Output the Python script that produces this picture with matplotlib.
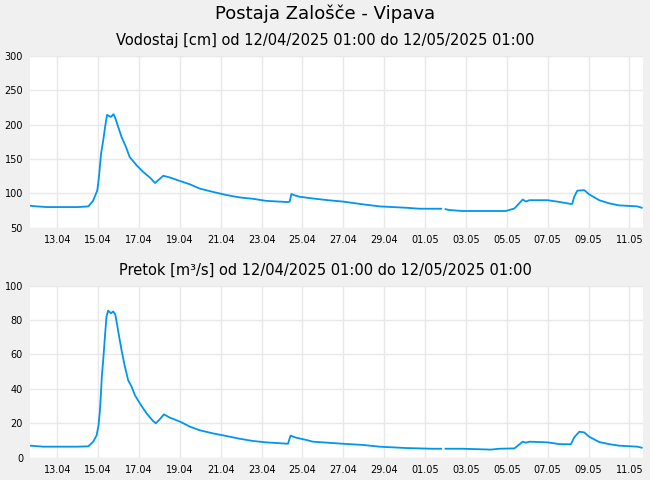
import numpy as np
import pandas as pd
import matplotlib
matplotlib.use('Agg')
import matplotlib.pyplot as plt
import matplotlib.dates as mdates

# Vodostaj [cm]
level_time = [
    '2025-04-11 16:00', '2025-04-12 00:00', '2025-04-12 12:00', '2025-04-13 00:00',
    '2025-04-14 00:00', '2025-04-14 12:30', '2025-04-14 18:00', '2025-04-14 23:00',
    '2025-04-15 01:00', '2025-04-15 03:30', '2025-04-15 06:00', '2025-04-15 08:30',
    '2025-04-15 10:30', '2025-04-15 15:00', '2025-04-15 18:00', '2025-04-15 20:00',
    '2025-04-15 23:30', '2025-04-16 03:30', '2025-04-16 08:30', '2025-04-16 13:00',
    '2025-04-16 21:00', '2025-04-17 05:00', '2025-04-17 12:45', '2025-04-17 19:00',
    '2025-04-17 22:30', '2025-04-18 04:30', '2025-04-18 12:15', '2025-04-19 00:00',
    '2025-04-19 12:00', '2025-04-19 23:00', '2025-04-20 15:00', '2025-04-21 06:45',
    '2025-04-21 22:20', '2025-04-22 14:00', '2025-04-23 05:30', '2025-04-24 07:00',
    '2025-04-24 09:00', '2025-04-24 11:00', '2025-04-24 15:00', '2025-04-24 20:40',
    '2025-04-25 12:15', '2025-04-26 06:00', '2025-04-26 23:30', '2025-04-27 23:00',
    '2025-04-28 18:30', '2025-04-30 02:00', '2025-04-30 17:30', '2025-05-01 19:00',
    '2025-05-01 20:00', '2025-05-02 00:00', '2025-05-02 04:30', '2025-05-02 20:00',
    '2025-05-04 23:00', '2025-05-05 09:00', '2025-05-05 18:45', '2025-05-05 22:30',
    '2025-05-06 02:30', '2025-05-07 00:00', '2025-05-07 13:40', '2025-05-08 03:20',
    '2025-05-08 05:00', '2025-05-08 07:10', '2025-05-08 10:50', '2025-05-08 19:00',
    '2025-05-09 00:45', '2025-05-09 12:30', '2025-05-10 00:00', '2025-05-10 11:45',
    '2025-05-11 09:20', '2025-05-11 14:30',
]
level_val = [
    82, 81, 80, 80,
    80, 81, 89, 104,
    124, 158, 177, 199,
    214, 211, 215, 210,
    197, 182, 168, 153,
    141, 131, 123, 115,
    119, 125.5, 123, 118,
    113, 107, 102, 97.5,
    94, 92, 89, 87.3,
    88, 99, 97, 95,
    92.5, 90, 88, 84,
    81, 79, 77.6, 77.6,
    np.nan, 77, 75.7, 74.3,
    74.3, 78, 91, 88,
    90, 90, 87.5, 84.5,
    85, 95, 103.8, 104.6,
    98.5, 90, 85.5, 82.5,
    81, 79,
]

# Pretok [m3/s]
flow_time = [
    '2025-04-11 16:00', '2025-04-12 07:40', '2025-04-14 00:00', '2025-04-14 12:30',
    '2025-04-14 18:15', '2025-04-14 22:15', '2025-04-15 00:30', '2025-04-15 02:10',
    '2025-04-15 03:20', '2025-04-15 04:20', '2025-04-15 06:00', '2025-04-15 08:00',
    '2025-04-15 09:50', '2025-04-15 11:45', '2025-04-15 15:00', '2025-04-15 17:45',
    '2025-04-15 20:10', '2025-04-15 22:25', '2025-04-16 00:45', '2025-04-16 03:30',
    '2025-04-16 07:25', '2025-04-16 11:20', '2025-04-16 15:20', '2025-04-16 19:10',
    '2025-04-17 01:00', '2025-04-17 08:50', '2025-04-17 16:35', '2025-04-17 19:45',
    '2025-04-17 23:40', '2025-04-18 05:15', '2025-04-18 12:15', '2025-04-19 00:00',
    '2025-04-19 12:00', '2025-04-19 23:00', '2025-04-20 15:00', '2025-04-21 06:45',
    '2025-04-21 22:20', '2025-04-22 14:00', '2025-04-23 05:30', '2025-04-24 07:00',
    '2025-04-24 10:00', '2025-04-24 16:50', '2025-04-25 04:30', '2025-04-25 12:15',
    '2025-04-26 06:00', '2025-04-26 23:30', '2025-04-27 23:00', '2025-04-28 18:30',
    '2025-04-30 02:00', '2025-05-01 09:00', '2025-05-01 19:00', '2025-05-01 20:00',
    '2025-05-02 00:00', '2025-05-02 20:00', '2025-05-04 05:30', '2025-05-04 15:20',
    '2025-05-05 09:00', '2025-05-05 18:45', '2025-05-05 22:30', '2025-05-06 02:30',
    '2025-05-07 00:00', '2025-05-07 13:40', '2025-05-08 03:20', '2025-05-08 07:10',
    '2025-05-08 13:10', '2025-05-08 19:00', '2025-05-09 00:45', '2025-05-09 12:30',
    '2025-05-10 00:00', '2025-05-10 11:45', '2025-05-11 09:20', '2025-05-11 14:30',
]
flow_val = [
    7.0, 6.4, 6.4, 6.6,
    9.3, 13, 19, 27.7,
    37.4, 47, 56.8, 70.3,
    82, 85.5, 84, 85,
    83.3, 77, 70.3, 62.6,
    53, 45, 41.3, 36.4,
    31.6, 25.8, 21.3, 20,
    21.9, 25.2, 23.3, 21,
    18, 16, 14.1, 12.6,
    11, 9.7, 8.9, 8.1,
    12.8, 11.6, 10.3, 9.3,
    8.7, 8.1, 7.4, 6.4,
    5.6, 5.2, 5.2, np.nan,
    5.2, 5.2, 4.7, 5.2,
    5.4, 9.3, 8.7, 9.3,
    8.9, 7.9, 7.8, 11.8,
    15.1, 14.7, 12.2, 9.1,
    7.9, 7.0, 6.4, 5.8,
]

title = 'Postaja Zalošče - Vipava'
period = 'od 12/04/2025 01:00 do 12/05/2025 01:00'
x_start = pd.Timestamp('2025-04-11 16:00')
x_end = pd.Timestamp('2025-05-11 16:00')

bg = '#f0f0f0'
line_color = '#0096ee'
grid_color = '#e8e8e8'

fig = plt.figure(figsize=(6.5, 4.8), dpi=100, facecolor=bg)
fig.text(0.5, 1 - 14 / 480, title, ha='center', va='center', fontsize=13)

panels = [
    (level_time, level_val, 'Vodostaj [cm] ' + period, (50, 300), 50, 0.5256),
    (flow_time, flow_val, 'Pretok [m³/s] ' + period, (0, 100), 20, 0.0465),
]

for times, vals, label, ylim, ystep, bottom in panels:
    ax = fig.add_axes([30 / 650, bottom, 613 / 650, 0.3583])
    ax.set_facecolor('white')
    ax.plot(pd.to_datetime(times), vals, color=line_color, linewidth=1.3)
    ax.set_xlim(x_start, x_end)
    ax.set_ylim(*ylim)
    ax.set_yticks(np.arange(ylim[0], ylim[1] + 1, ystep))
    ticks = pd.date_range('2025-04-13', '2025-05-11', freq='2D')
    ax.set_xticks(ticks)
    ax.xaxis.set_major_formatter(mdates.DateFormatter('%d.%m'))
    ax.grid(True, color=grid_color, linewidth=1)
    ax.set_axisbelow(True)
    for s in ax.spines.values():
        s.set_visible(False)
    ax.tick_params(length=0, labelsize=7, pad=5)
    top_px = (1 - bottom - 0.3583) * 480
    fig.text(0.5, 1 - (top_px - 15) / 480, label, ha='center', va='center', fontsize=10.5)

fig.savefig('out.png', dpi=100, facecolor=bg)
